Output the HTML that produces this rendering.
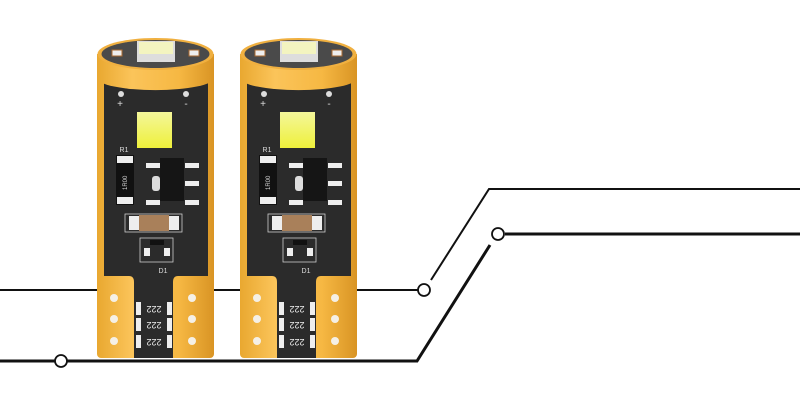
<!DOCTYPE html>
<html><head><meta charset="utf-8"><style>html,body{margin:0;padding:0;background:#fff}svg{display:block}</style></head><body>
<svg width="800" height="400" viewBox="0 0 800 400" xmlns="http://www.w3.org/2000/svg" font-family="Liberation Sans, sans-serif">
<defs>
<linearGradient id="gold" x1="0" x2="1" y1="0" y2="0">
<stop offset="0" stop-color="#e9a830"/><stop offset="0.3" stop-color="#fbc45a"/><stop offset="0.7" stop-color="#f6b843"/><stop offset="1" stop-color="#d99424"/>
</linearGradient>
<linearGradient id="led" x1="0" x2="0" y1="0" y2="1"><stop offset="0" stop-color="#f4f79a"/><stop offset="1" stop-color="#eef03a"/></linearGradient>
</defs>
<g stroke="#111" fill="none">
<path d="M0 290 H418" stroke-width="2"/>
<path d="M431 280 L489 189 H800" stroke-width="2"/>
<path d="M0 361 H55 M67 361 H417 L490 245" stroke-width="3"/>
<path d="M505 234 H800" stroke-width="3"/>
</g>
<g stroke="#111" fill="#fff" stroke-width="1.8">
<circle cx="424" cy="290" r="6"/><circle cx="61" cy="361" r="6"/><circle cx="498" cy="234" r="6"/>
</g>
<g id="b1">
<rect x="97" y="70" width="117" height="288" rx="4" fill="url(#gold)"/>
<path d="M104 80 H208 V276 H178 Q173 276 173 282 V358 H134 V282 Q134 276 129 276 H104 Z" fill="#2b2b2b"/>
<path d="M97 54 V78 A58 12 0 0 0 214 78 V54 Z" fill="url(#gold)"/>
<ellipse cx="155.5" cy="54" rx="58" ry="16" fill="#f0b040"/>
<ellipse cx="155.5" cy="54" rx="54" ry="14" fill="#4a4a4a"/>
<rect x="137" y="41" width="38" height="21" fill="#ddd"/>
<rect x="139" y="42" width="34" height="12" fill="#f3f4c0"/>
<rect x="112" y="50" width="10" height="6" fill="#eee" stroke="#aa6a30"/>
<rect x="189" y="50" width="10" height="6" fill="#eee" stroke="#aa6a30"/>
<circle cx="121" cy="94" r="3" fill="#ddd"/><circle cx="186" cy="94" r="3" fill="#ddd"/>
<text x="120" y="107" fill="#ddd" font-size="10" text-anchor="middle">+</text>
<text x="186" y="107" fill="#ddd" font-size="10" text-anchor="middle">-</text>
<rect x="137" y="112" width="35" height="36" fill="url(#led)"/>
<text x="124" y="152" fill="#ddd" font-size="7" text-anchor="middle">R1</text>
<rect x="116" y="155" width="18" height="50" fill="#111"/>
<rect x="117" y="156" width="16" height="7" fill="#eee"/><rect x="117" y="197" width="16" height="7" fill="#eee"/>
<text x="0" y="0" fill="#ddd" font-size="6" transform="translate(127 190) rotate(-90)">1R00</text>
<rect x="160" y="158" width="24" height="43" fill="#151515"/>
<rect x="146" y="163" width="14" height="5" fill="#eee"/><rect x="146" y="200" width="14" height="5" fill="#eee"/>
<rect x="185" y="163" width="14" height="5" fill="#eee"/><rect x="185" y="181" width="14" height="5" fill="#eee"/><rect x="185" y="200" width="14" height="5" fill="#eee"/>
<rect x="152" y="176" width="8" height="15" rx="3" fill="#ddd"/>
<rect x="125" y="214" width="57" height="18" fill="none" stroke="#ccc" stroke-width="0.8"/>
<rect x="129" y="216" width="10" height="14" fill="#eee"/><rect x="169" y="216" width="10" height="14" fill="#eee"/>
<rect x="139" y="215" width="30" height="16" fill="#a9805a"/>
<rect x="140" y="238" width="33" height="24" fill="none" stroke="#ccc" stroke-width="0.8"/>
<rect x="144" y="248" width="6" height="8" fill="#eee"/><rect x="164" y="248" width="6" height="8" fill="#eee"/>
<rect x="150" y="240" width="14" height="5" fill="#111"/>
<text x="163" y="273" fill="#ddd" font-size="7" text-anchor="middle">D1</text>
<g fill="#f5f0e6"><circle cx="114" cy="298" r="4"/><circle cx="114" cy="319" r="4"/><circle cx="114" cy="341" r="4"/>
<circle cx="192" cy="298" r="4"/><circle cx="192" cy="319" r="4"/><circle cx="192" cy="341" r="4"/></g>
<g fill="#eee"><rect x="136" y="302" width="5" height="13"/><rect x="167" y="302" width="5" height="13"/>
<rect x="136" y="318" width="5" height="13"/><rect x="167" y="318" width="5" height="13"/>
<rect x="136" y="335" width="5" height="13"/><rect x="167" y="335" width="5" height="13"/></g>
<g fill="#eee" font-size="9" text-anchor="middle"><text x="154" y="312" transform="rotate(180 154 309)">222</text><text x="154" y="328" transform="rotate(180 154 325)">222</text><text x="154" y="345" transform="rotate(180 154 342)">222</text></g>
</g>
<use href="#b1" transform="translate(143 0)"/>
</svg>
</body></html>
